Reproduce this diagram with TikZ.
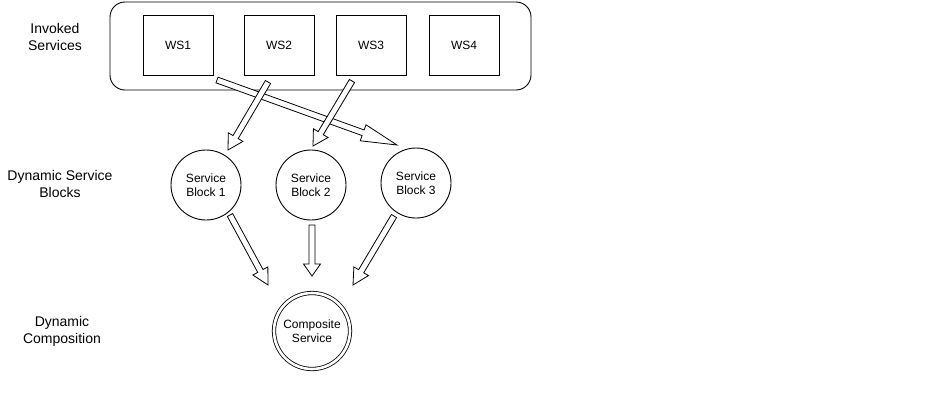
\documentclass[tikz,border=0pt]{standalone}
\usepackage{fontspec}
\setmainfont{Liberation Sans}
\usetikzlibrary{calc}
\newcommand{\blockarr}[3]{%
  \path ($(#2)!#3!(#1)$) coordinate (hb);
  \draw[arrowst] ($(#1)!3pt!90:(#2)$) -- ($(hb)!3pt!90:(#2)$) -- ($(hb)!8.5pt!90:(#2)$) -- (#2)
    -- ($(hb)!8.5pt!-90:(#2)$) -- ($(hb)!3pt!-90:(#2)$) -- ($(#1)!3pt!-90:(#2)$) -- cycle;
}
\begin{document}
\begin{tikzpicture}[x=1pt,y=-1pt,
  every node/.style={font=\fontsize{12}{14}\selectfont, align=center, inner sep=0pt, outer sep=0pt},
  wsbox/.style={draw, line width=0.9pt, minimum width=70pt, minimum height=60pt},
  blockc/.style={draw, circle, line width=0.9pt, minimum size=70pt},
  sidelabel/.style={font=\fontsize{14}{17}\selectfont},
  arrowst/.style={draw, fill=white, line width=0.8pt, line join=miter}]
\useasboundingbox (0,0) rectangle (947,400);
\fill[white] (0,0) rectangle (947,400);
% side labels
\node[sidelabel] (l1) at (55,37) {Invoked\\Services};
\node[sidelabel] (l2) at (60,184) {Dynamic Service\\Blocks};
\node[sidelabel] (l3) at (62,331) {Dynamic\\Composition};
% container and web services
\node[draw, line width=0.9pt, rounded corners=15pt, minimum width=421pt, minimum height=88pt] (outer) at (320.5,46) {};
\node[wsbox] (ws1) at (178,45) {WS1};
\node[wsbox] (ws2) at (279,45) {WS2};
\node[wsbox] (ws3) at (371,45) {WS3};
\node[wsbox] (ws4) at (464,45) {WS4};
% service blocks
\node[blockc] (sb1) at (206,185) {Service\\Block 1};
\node[blockc] (sb2) at (311,185) {Service\\Block 2};
\node[blockc] (sb3) at (416,183) {Service\\Block 3};
% composite
\node[draw, circle, line width=0.8pt, double, double distance=2.6pt, minimum size=76pt] (comp) at (312,331) {Composite\\Service};
% arrow end points
\coordinate (a1s) at (217,80);  \coordinate (a1t) at (397,145);
\coordinate (a2s) at (268,82);  \coordinate (a2t) at (228,150);
\coordinate (a3s) at (352,81);  \coordinate (a3t) at (313,146);
\coordinate (a4s) at (230,215); \coordinate (a4t) at (268,285);
\coordinate (a5s) at (312,225); \coordinate (a5t) at (312,276);
\coordinate (a6s) at (394,216); \coordinate (a6t) at (353,285);
\blockarr{a1s}{a1t}{36pt}
\blockarr{a2s}{a2t}{15pt}
\blockarr{a3s}{a3t}{15pt}
\blockarr{a4s}{a4t}{16pt}
\blockarr{a5s}{a5t}{12pt}
\blockarr{a6s}{a6t}{16pt}
\end{tikzpicture}
\end{document}
